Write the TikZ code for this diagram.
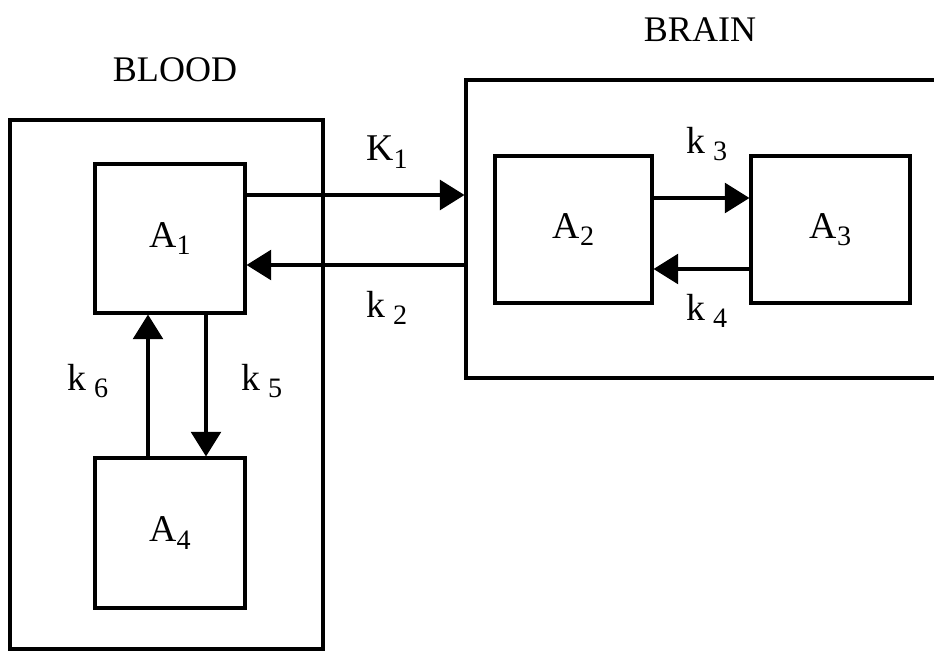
\documentclass[tikz,border=0pt]{standalone}
\usepackage{fontspec}
\setmainfont{Liberation Serif}
\usetikzlibrary{arrows.meta}

\newcommand{\lsub}[1]{\raisebox{-0.2em}{\fontsize{16}{16}\selectfont #1}}

\tikzset{
  box/.style={draw, line width=1.8pt, inner sep=0pt},
  flow/.style={line width=1.8pt, -{Triangle[length=14pt,width=17pt]}},
  lbl/.style={font=\fontsize{21.5}{24}\selectfont},
  title/.style={font=\fontsize{20.5}{24}\selectfont},
}

\begin{document}
\begin{tikzpicture}[x=0.02cm, y=-0.02cm]
\useasboundingbox (0,0) rectangle (934,651);

% compartments
\node[box, minimum width=6.26cm, minimum height=10.58cm] (blood) at (166.5,384.5) {};
\node[box, minimum width=10.68cm, minimum height=5.96cm] (brain) at (733,229) {};
\path (175,70) node[title] {BLOOD};
\path (700,30) node[title] {BRAIN};

% pools
\node[box, lbl, minimum width=3cm, minimum height=2.98cm] (a1) at (170,238.5) {A\lsub{1}};
\node[box, lbl, minimum width=3cm, minimum height=3cm] (a4) at (170,533) {A\lsub{4}};
\node[box, lbl, minimum width=3.14cm, minimum height=2.94cm] (a2) at (573.5,229.5) {A\lsub{2}};
\node[box, lbl, minimum width=3.18cm, minimum height=2.94cm] (a3) at (830.5,229.5) {A\lsub{3}};

% exchange
\draw[flow] (a1.east |- 0,195) -- (brain.west |- 0,195);
\draw[flow] (brain.west |- 0,265) -- (a1.east |- 0,265);
\draw[flow] (a2.east |- 0,198) -- (a3.west |- 0,198);
\draw[flow] (a3.west |- 0,269) -- (a2.east |- 0,269);
\draw[flow] (a1.south -| 206,0) -- (a4.north -| 206,0);
\draw[flow] (a4.north -| 148,0) -- (a1.south -| 148,0);

% rate constants
\path (387,152) node[lbl] {K\lsub{1}};
\path (387,308) node[lbl] {k\hspace{0.2em}\lsub{2}};
\path (707,144) node[lbl] {k\hspace{0.2em}\lsub{3}};
\path (707,311) node[lbl] {k\hspace{0.2em}\lsub{4}};
\path (262,381) node[lbl] {k\hspace{0.2em}\lsub{5}};
\path (88,381) node[lbl] {k\hspace{0.2em}\lsub{6}};
\end{tikzpicture}
\end{document}
